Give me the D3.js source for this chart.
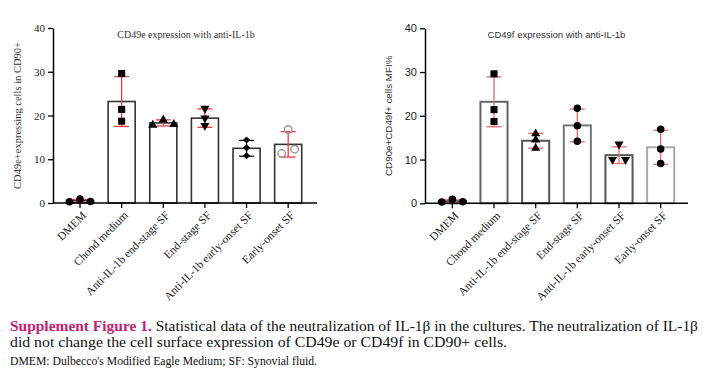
<!DOCTYPE html>
<meta charset="utf-8" />
<title>Supplement Figure 1</title>
<style>
  body { margin: 0; background: #fff; }
  svg { display: block; }
  .serif { font-family: "Liberation Serif", "Times New Roman", serif; }
  .sans { font-family: "Liberation Sans", Arial, sans-serif; }
</style>
<body>
  <svg width="711" height="377"></svg>

  <script src="https://d3js.org/d3.v7.min.js"></script>
  <script>
    const categories = ["DMEM", "Chond medium", "Anti-IL-1b end-stage SF", "End-stage SF",
                        "Anti-IL-1b early-onset SF", "Early-onset SF"];
    const yTicks = [0, 10, 20, 30, 40];

    // CD49e panel (mean, SD, replicate points)
    const cd49eMean = [0.5, 23.2, 18.3, 19.4, 12.5, 13.4];
    const cd49eSD = [0.3, 5.7, 0.7, 2.1, 1.8, 2.9];
    const cd49ePoints = [[0.3, 0.9, 0.35], [29.6, 21.4, 18.7], [17.8, 19.0, 18.0],
                         [21.6, 19.4, 17.7], [14.4, 12.6, 10.8], [11.3, 16.8, 12.3]];

    // CD49f panel
    const cd49fMean = [0.5, 23.2, 14.3, 17.8, 11.0, 12.8];
    const cd49fSD = [0.3, 5.7, 1.7, 3.75, 1.9, 3.9];
    const cd49fPoints = [[0.3, 0.9, 0.35], [29.6, 21.4, 18.7], [15.9, 14.5, 12.6],
                         [21.7, 17.7, 14.2], [10.0, 13.5, 10.0], [16.9, 12.4, 9.1]];

    const svg = d3.select("svg");

    const panels = [
      {
        title: "CD49e expression with anti-IL-1b", ylabel: "CD49e+expressing cells in CD90+",
        mean: cd49eMean, sd: cd49eSD, points: cd49ePoints,
        axisX: 53, band: [59.2, 309], axisEnd: 317, y: [203, 28],
        titleX: 186, ylabelX: 17, font: "serif", tickFont: "serif",
        shapes: ["circle", "square", "triangle", "triangleDown", "diamond", "openCircle"],
        barStroke: ["#333", "#333", "#333", "#333", "#333", "#333"], barWidth: 1.6,
        errColor: ["#f03c3c", "#f03c3c", "#f03c3c", "#f03c3c", "#111", "#f03c3c"]
      },
      {
        title: "CD49f expression with anti-IL-1b", ylabel: "CD90e+CD49f+ cells MFI%",
        mean: cd49fMean, sd: cd49fSD, points: cd49fPoints,
        axisX: 425, band: [431.5, 681.5], axisEnd: 688, y: [203.3, 28.3],
        titleX: 556.5, ylabelX: 389, font: "sans", tickFont: "sans",
        shapes: ["circle", "square", "triangle", "circle", "triangleDown", "circle"],
        barStroke: ["#444", "#666", "#555", "#777", "#555", "#aaa"], barWidth: 2,
        errColor: ["#e36a6a", "#e36a6a", "#e36a6a", "#e36a6a", "#e36a6a", "#e36a6a"]
      }
    ];

    // spread replicate points that overlap vertically, GraphPad style
    function offsets(vals, y) {
      const order = vals.map((v, i) => i).sort((a, b) => vals[a] - vals[b]);
      const groups = [[order[0]]];
      for (let k = 1; k < order.length; k++) {
        const prev = order[k - 1], cur = order[k];
        if (Math.abs(y(vals[cur]) - y(vals[prev])) < 5.5) groups[groups.length - 1].push(cur);
        else groups.push([cur]);
      }
      const off = vals.map(() => 0);
      groups.forEach(g => {
        g.sort((a, b) => a - b);
        const step = g.length === 2 ? 13 : 10.5;
        g.forEach((idx, k) => { off[idx] = (k - (g.length - 1) / 2) * step; });
      });
      return off;
    }

    function marker(shape) {
      if (shape === "square") return d3.symbol(d3.symbolSquare, 50)();
      if (shape === "triangle" || shape === "triangleDown") return d3.symbol(d3.symbolTriangle, 36)();
      if (shape === "diamond") return d3.symbol(d3.symbolSquare, 26)();
      return d3.symbol(d3.symbolCircle, 44)();
    }

    panels.forEach(p => {
      const g = svg.append("g");
      const x = d3.scaleBand().domain(categories).range(p.band)
        .paddingInner(0.35).paddingOuter(0.175);
      const y = d3.scaleLinear().domain([0, 40]).range(p.y);
      const cx = c => x(c) + x.bandwidth() / 2;

      // title and y label
      g.append("text").attr("class", p.font)
        .attr("x", p.titleX).attr("y", 38)
        .attr("text-anchor", "middle").attr("font-size", p.font === "serif" ? 10 : 9.5)
        .attr("fill", "#333").text(p.title);

      g.append("text").attr("class", p.font)
        .attr("transform", `translate(${p.ylabelX},${(p.y[0] + p.y[1]) / 2}) rotate(-90)`)
        .attr("dy", "0.35em")
        .attr("text-anchor", "middle").attr("font-size", p.font === "serif" ? 10.5 : 9.8)
        .attr("fill", "#333").text(p.ylabel);

      // bars
      g.append("g").selectAll("rect")
        .data(categories)
        .join("rect")
        .attr("x", d => x(d))
        .attr("y", (d, i) => y(p.mean[i]))
        .attr("width", x.bandwidth())
        .attr("height", (d, i) => y(0) - y(p.mean[i]))
        .attr("fill", "#fff")
        .attr("stroke", (d, i) => p.barStroke[i])
        .attr("stroke-width", p.barWidth);

      // error bars
      const err = g.append("g").selectAll("g")
        .data(categories)
        .join("g")
        .attr("stroke", (d, i) => p.errColor[i])
        .attr("stroke-width", 1.3);
      err.append("line")
        .attr("x1", d => cx(d)).attr("x2", d => cx(d))
        .attr("y1", (d, i) => y(p.mean[i] - p.sd[i]))
        .attr("y2", (d, i) => y(p.mean[i] + p.sd[i]));
      [-1, 1].forEach(s => {
        err.append("line")
          .attr("x1", d => cx(d) - 7.5).attr("x2", d => cx(d) + 7.5)
          .attr("y1", (d, i) => y(p.mean[i] + s * p.sd[i]))
          .attr("y2", (d, i) => y(p.mean[i] + s * p.sd[i]));
      });

      // replicate points
      categories.forEach((c, i) => {
        const off = offsets(p.points[i], y);
        const shape = p.shapes[i];
        g.append("g").selectAll("path")
          .data(p.points[i])
          .join("path")
          .attr("d", marker(shape))
          .attr("transform", (v, k) => {
            let t = `translate(${cx(c) + off[k]},${y(v)})`;
            if (shape === "triangleDown") t += " rotate(180)";
            if (shape === "diamond") t += " rotate(45)";
            return t;
          })
          .attr("fill", shape === "openCircle" ? "none" : "#000")
          .attr("stroke", shape === "openCircle" ? "#999" : "none")
          .attr("stroke-width", 1.4);
      });

      // y axis
      const ya = g.append("g")
        .attr("transform", `translate(${p.axisX},0)`)
        .call(d3.axisLeft(y).tickValues(yTicks).tickSize(5).tickSizeOuter(0).tickPadding(3));
      ya.select(".domain").attr("stroke", "#000").attr("stroke-width", 1.5);
      ya.selectAll(".tick line").attr("stroke", "#000").attr("stroke-width", 1.3);
      ya.selectAll(".tick text").attr("class", p.tickFont)
        .attr("font-size", 11).attr("fill", "#222");

      // x axis
      const xa = g.append("g")
        .attr("transform", `translate(0,${y(0)})`)
        .call(d3.axisBottom(x).tickSize(5).tickSizeOuter(0));
      xa.select(".domain").remove();
      xa.append("line")
        .attr("x1", p.axisX).attr("x2", p.axisEnd)
        .attr("stroke", "#000").attr("stroke-width", 1.5);
      xa.selectAll(".tick line").attr("stroke", "#000").attr("stroke-width", 1.3);
      xa.selectAll(".tick text").attr("class", "serif")
        .attr("font-size", 11.5).attr("fill", "#222")
        .attr("x", 0).attr("y", 0).attr("dy", 0)
        .attr("transform", "translate(7,13) rotate(-45)")
        .style("text-anchor", "end");
    });

    // caption
    const cap = svg.append("g").attr("class", "serif");
    const l1 = cap.append("text").attr("x", 10).attr("y", 331)
      .attr("font-size", 14.5).attr("fill", "#111")
      .attr("textLength", 688).attr("lengthAdjust", "spacingAndGlyphs");
    l1.append("tspan").attr("font-weight", "bold").attr("fill", "#c41e74")
      .text("Supplement Figure 1.");
    l1.append("tspan")
      .text(" Statistical data of the neutralization of IL-1\u03b2 in the cultures. The neutralization of IL-1\u03b2");
    cap.append("text").attr("x", 10).attr("y", 347)
      .attr("font-size", 14.5).attr("fill", "#111")
      .attr("textLength", 497).attr("lengthAdjust", "spacingAndGlyphs")
      .text("did not change the cell surface expression of CD49e or CD49f in CD90+ cells.");
    cap.append("text").attr("x", 10).attr("y", 365)
      .attr("font-size", 11.5).attr("fill", "#111")
      .attr("textLength", 307).attr("lengthAdjust", "spacingAndGlyphs")
      .text("DMEM: Dulbecco's Modified Eagle Medium; SF: Synovial fluid.");
  </script>
</body>
